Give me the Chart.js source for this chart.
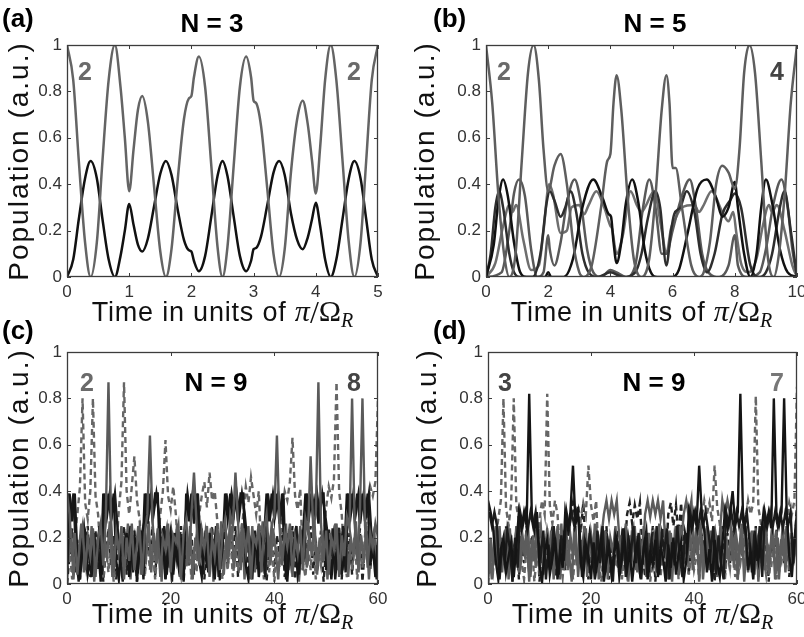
<!DOCTYPE html>
<html>
<head>
<meta charset="utf-8">
<script src="https://cdn.jsdelivr.net/npm/chart.js@4.4.1/dist/chart.umd.min.js"></script>
<style>
  html, body { margin: 0; padding: 0; background: #fff; }
  #wrap { position: relative; width: 804px; height: 637px; overflow: hidden; }
  #wrap canvas { position: absolute; left: 0; top: 0; }
</style>
</head>
<body>
<div id="wrap">
  <canvas id="panel-a" width="804" height="637"></canvas>
  <canvas id="panel-b" width="804" height="637"></canvas>
  <canvas id="panel-c" width="804" height="637"></canvas>
  <canvas id="panel-d" width="804" height="637"></canvas>
</div>
<script>
// ---- data ----

// (a) N = 3
const timeA = [0,0.1,0.19,0.29,0.38,0.48,0.57,0.67,0.77,0.86,0.93,1.0,1.07,1.14,1.21,1.3,1.4,1.5,1.59,1.68,1.78,1.88,1.96,2.0,2.04,2.12,2.22,2.32,2.42,2.5,2.58,2.68,2.78,2.88,2.96,3.0,3.04,3.12,3.22,3.32,3.41,3.5,3.6,3.7,3.79,3.87,3.94,4.0,4.07,4.15,4.24,4.33,4.43,4.53,4.62,4.72,4.81,4.9,5.0];
const grayA = [1,0.85,0.5,0.15,0,0.15,0.5,0.85,1,0.82,0.6,0.37,0.55,0.72,0.78,0.67,0.39,0.11,0,0.12,0.42,0.68,0.77,0.78,0.86,0.95,0.82,0.48,0.13,0,0.13,0.48,0.82,0.95,0.86,0.76,0.75,0.65,0.38,0.1,0,0.12,0.45,0.68,0.76,0.66,0.5,0.36,0.56,0.85,1,0.85,0.5,0.15,0,0.15,0.5,0.85,1];
const blackA = [0,0.075,0.25,0.425,0.5,0.425,0.25,0.075,0,0.09,0.2,0.315,0.225,0.14,0.11,0.165,0.305,0.445,0.5,0.44,0.29,0.16,0.115,0.11,0.07,0.025,0.09,0.26,0.435,0.5,0.435,0.26,0.09,0.025,0.07,0.12,0.125,0.175,0.31,0.45,0.5,0.44,0.275,0.16,0.12,0.17,0.25,0.32,0.22,0.075,0,0.075,0.25,0.425,0.5,0.425,0.25,0.075,0];

// (b) N = 5
const timeB1 = [0,0.2,0.4,0.6,0.75,0.95,1.15,1.35,1.53,1.7,1.85,2.0,2.2,2.4,2.6,2.8,3.0,3.15,3.4,3.7,3.9,4.0,4.1,4.2,4.35,4.55,4.75,5.0,5.25,5.45,5.65,5.8,5.9,6.0,6.1,6.3,6.6,6.85,7.0,7.2,7.4,7.6,7.8,8.0,8.15,8.3,8.47,8.65,8.85,9.05,9.25,9.4,9.6,9.8,10];
const site2B = [1,0.75,0.35,0.08,0,0.1,0.5,0.88,1,0.85,0.55,0.37,0.48,0.53,0.4,0.15,0.02,0,0.05,0.3,0.5,0.53,0.75,0.87,0.72,0.35,0.08,0,0.08,0.35,0.72,0.87,0.75,0.47,0.47,0.3,0.05,0,0.02,0.15,0.4,0.48,0.45,0.38,0.55,0.88,1,0.88,0.5,0.1,0,0.08,0.35,0.75,1];
const timeB2 = [0,0.25,0.4,0.55,0.7,0.9,1.1,1.3,1.9,2.0,2.1,2.5,2.8,3.1,3.45,3.75,3.95,4.02,4.1,4.2,4.35,4.5,4.7,4.9,5.1,5.3,5.5,6.0,6.2,6.5,6.8,7.1,7.4,7.6,7.8,8.0,8.1,8.3,8.5,8.7,8.85,9.0,9.2,9.45,9.7,10];
const blackB1 = [0,0.14,0.33,0.42,0.35,0.15,0.02,0,0,0.02,0,0,0.08,0.3,0.42,0.34,0.27,0.26,0.15,0.06,0.15,0.32,0.42,0.32,0.12,0.02,0,0,0.03,0.2,0.38,0.42,0.34,0.26,0.3,0.41,0.3,0.1,0,0.1,0.3,0.42,0.32,0.12,0.02,0];
const timeB3 = [0,0.15,0.3,0.42,0.55,0.75,0.9,1.1,1.5,1.75,1.95,2.05,2.2,2.4,2.55,2.72,2.9,3.1,3.3,3.6,4.0,4.4,4.8,5.0,5.2,5.45,5.6,5.8,5.95,6.05,6.25,6.45,6.7,6.9,7.1,7.35,7.6,7.85,8.0,8.2,8.5,8.8,9.0,9.2,9.45,9.6,9.8,10];
const blackB2 = [0,0.1,0.3,0.37,0.3,0.1,0.02,0,0,0.1,0.32,0.37,0.33,0.26,0.3,0.37,0.28,0.1,0.02,0,0.02,0,0.02,0.1,0.25,0.37,0.3,0.05,0.2,0.27,0.3,0.37,0.28,0.1,0.02,0.1,0.27,0.33,0.36,0.3,0.05,0,0.02,0.1,0.3,0.37,0.2,0];
const timeB4 = [0,0.5,0.75,0.9,1.06,1.25,1.45,1.65,1.85,2.0,2.05,2.2,2.4,2.6,2.85,3.05,3.25,3.45,3.7,4.0,4.2,4.5,4.8,5.05,5.25,5.45,5.65,5.8,6.0,6.3,6.55,6.75,6.95,7.15,7.5,7.8,8.0,8.1,8.4,8.8,9.0,9.25,9.5,9.7,9.85,10];
const grayB1 = [0,0.02,0.2,0.36,0.42,0.35,0.12,0,0.02,0.18,0.12,0.05,0.15,0.32,0.42,0.32,0.12,0.02,0,0.03,0.02,0,0.05,0.3,0.42,0.3,0.1,0.1,0.2,0.35,0.42,0.3,0.1,0.02,0,0.05,0.18,0.05,0,0.02,0.12,0.32,0.42,0.3,0.12,0];
const timeB5 = [0,0.3,0.55,0.75,0.85,0.97,1.2,1.45,1.7,1.85,2.03,2.15,2.4,2.6,2.75,3.0,3.15,3.3,3.55,3.8,4.0,4.05,4.2,4.4,4.65,4.85,5.0,5.15,5.4,5.65,5.8,5.95,6.05,6.3,6.7,6.85,7.0,7.25,7.6,7.8,7.95,8.05,8.2,8.45,8.7,8.9,9.1,9.2,9.35,9.6,9.85,10];
const grayB2 = [0,0.06,0.22,0.31,0.28,0.31,0.16,0.03,0.05,0.2,0.4,0.36,0.19,0.2,0.3,0.31,0.27,0.31,0.37,0.3,0.22,0.21,0.1,0.18,0.37,0.31,0.28,0.31,0.37,0.2,0.1,0.21,0.24,0.3,0.31,0.28,0.31,0.37,0.28,0.24,0.28,0.19,0.06,0.02,0.08,0.22,0.31,0.28,0.31,0.2,0.05,0];

// (c) and (d) N = 9, sampled every half unit from 0 to 60
const stepCD = 0.5;
const solidGrayC = [
  0.39,0.3,0.1,0.22,0.04,0.18,0.25,0.06,0.2,0.12,
  0.24,0.03,0.19,0.26,0.08,0.3,0.87,0.28,0.05,0.22,
  0.14,0.25,0.02,0.2,0.1,0.26,0.06,0.17,0.24,0.04,
  0.22,0.3,0.64,0.27,0.12,0.24,0.03,0.2,0.15,0.26,
  0.05,0.21,0.18,0.25,0.02,0.22,0.28,0.1,0.3,0.48,
  0.26,0.08,0.23,0.15,0.25,0.03,0.2,0.12,0.26,0.06,
  0.22,0.28,0.09,0.3,0.25,0.48,0.27,0.06,0.24,0.14,
  0.25,0.02,0.21,0.17,0.26,0.05,0.23,0.3,0.12,0.26,
  0.29,0.64,0.25,0.08,0.22,0.16,0.26,0.03,0.2,0.13,
  0.25,0.06,0.28,0.22,0.55,0.24,0.3,0.87,0.26,0.1,
  0.23,0.04,0.2,0.15,0.26,0.03,0.21,0.12,0.29,0.24,
  0.8,0.26,0.1,0.3,0.8,0.25,0.07,0.22,0.16,0.26,0.2
];
const solidBlackC = [
  0,0.39,0.27,0.39,0.12,0.02,0.15,0.21,0.04,0.1,
  0.2,0.06,0.17,0.01,0.39,0.28,0.39,0.27,0.39,0.1,
  0.02,0.18,0.08,0.22,0.03,0.14,0.2,0.01,0.16,0.09,
  0.39,0.26,0.39,0.28,0.39,0.39,0.05,0.19,0.02,0.13,
  0.21,0.04,0.17,0.08,0.2,0.01,0.39,0.27,0.39,0.26,
  0.39,0.1,0.03,0.18,0.07,0.22,0.12,0.02,0.19,0.06,
  0.15,0.39,0.28,0.39,0.26,0.39,0.27,0.39,0.39,0.08,
  0.02,0.17,0.1,0.21,0.03,0.14,0.19,0.39,0.27,0.39,
  0.28,0.39,0.26,0.39,0.1,0.01,0.18,0.07,0.21,0.04,
  0.12,0.2,0.39,0.27,0.39,0.28,0.39,0.26,0.39,0.39,
  0.06,0.19,0.02,0.15,0.09,0.22,0.04,0.13,0.39,0.27,
  0.39,0.28,0.39,0.26,0.39,0.27,0.39,0.08,0.16,0.03,0.2
];
const dashedGrayC = [
  0.05,0.15,0.02,0.2,0.3,0.42,0.8,0.35,0.28,0.4,
  0.8,0.38,0.3,0.12,0.02,0.16,0.05,0.2,0.01,0.14,
  0.32,0.44,0.87,0.4,0.3,0.42,0.55,0.36,0.28,0.1,
  0.03,0.18,0.06,0.2,0.02,0.15,0.3,0.4,0.62,0.38,
  0.32,0.42,0.3,0.12,0.04,0.19,0.07,0.2,0.02,0.16,
  0.05,0.3,0.38,0.44,0.33,0.48,0.36,0.4,0.27,0.12,
  0.02,0.17,0.06,0.21,0.03,0.14,0.08,0.2,0.3,0.42,
  0.35,0.46,0.38,0.3,0.4,0.13,0.02,0.18,0.05,0.2,
  0.01,0.16,0.07,0.3,0.4,0.36,0.44,0.63,0.38,0.32,
  0.41,0.1,0.03,0.19,0.06,0.21,0.02,0.15,0.08,0.2,
  0.33,0.42,0.37,0.45,0.87,0.4,0.3,0.12,0.03,0.18,
  0.06,0.2,0.02,0.15,0.07,0.21,0.32,0.42,0.38,0.44,0.8
];
const dashedBlackC = [
  0,0.12,0.24,0.05,0.19,0.02,0.22,0.1,0.25,0.03,
  0.17,0.23,0.06,0.2,0.01,0.14,0.24,0.08,0.21,0.02,
  0.18,0.11,0.25,0.04,0.2,0.07,0.23,0.01,0.15,0.22,
  0.05,0.19,0.12,0.25,0.03,0.21,0.09,0.24,0.02,0.16,
  0.23,0.06,0.2,0.13,0.25,0.01,0.18,0.08,0.22,0.04,
  0.2,0.14,0.24,0.02,0.17,0.1,0.25,0.05,0.21,0.01,
  0.16,0.23,0.07,0.2,0.12,0.25,0.03,0.19,0.09,0.24,
  0.02,0.18,0.22,0.06,0.25,0.11,0.2,0.01,0.16,0.23,
  0.05,0.21,0.13,0.24,0.03,0.19,0.08,0.25,0.02,0.17,
  0.22,0.06,0.2,0.12,0.25,0.04,0.18,0.1,0.23,0.01,
  0.15,0.24,0.07,0.21,0.13,0.25,0.02,0.19,0.09,0.22,
  0.04,0.2,0.11,0.24,0.01,0.17,0.23,0.06,0.21,0.12,0.18
];
// second set of (c) traces, sampled a quarter unit later
const lowGrayC = [
  0.1,0.24,0.02,0.19,0.13,0.26,0.05,0.21,0.09,0.25,
  0.01,0.18,0.23,0.07,0.2,0.12,0.27,0.03,0.16,0.24,
  0.06,0.21,0.11,0.26,0.02,0.19,0.14,0.25,0.04,0.2,
  0.12,0.27,0.05,0.22,0.09,0.25,0.01,0.18,0.24,0.07,
  0.21,0.13,0.26,0.03,0.17,0.23,0.08,0.25,0.02,0.2,
  0.11,0.26,0.06,0.22,0.14,0.24,0.01,0.19,0.1,0.27,
  0.04,0.21,0.16,0.25,0.07,0.2,0.12,0.26,0.02,0.23,
  0.09,0.25,0.05,0.19,0.13,0.27,0.03,0.22,0.08,0.24,
  0.15,0.02,0.2,0.11,0.26,0.06,0.23,0.13,0.25,0.01,
  0.18,0.24,0.07,0.21,0.12,0.27,0.04,0.2,0.1,0.25,
  0.02,0.22,0.14,0.26,0.06,0.19,0.11,0.24,0.03,0.2,
  0.13,0.27,0.05,0.21,0.09,0.25,0.02,0.18,0.23,0.07,0.15
];
const bandBlackC = [
  0.39,0.3,0.39,0.12,0.01,0.19,0.25,0.08,0.16,0.03,
  0.22,0.1,0.25,0.04,0.39,0.3,0.39,0.31,0.39,0.24,
  0.11,0.01,0.2,0.15,0.25,0.05,0.17,0.09,0.23,0.02,
  0.39,0.3,0.39,0.31,0.39,0.3,0.14,0.25,0.04,0.18,
  0.01,0.22,0.1,0.16,0.03,0.25,0.39,0.3,0.39,0.31,
  0.39,0.18,0.09,0.23,0.05,0.21,0.12,0.25,0.03,0.17,
  0.24,0.39,0.3,0.39,0.31,0.39,0.3,0.39,0.31,0.19,
  0.13,0.02,0.23,0.08,0.21,0.16,0.03,0.39,0.3,0.39,
  0.31,0.39,0.3,0.39,0.02,0.22,0.09,0.17,0.25,0.04,
  0.19,0.11,0.39,0.3,0.39,0.31,0.39,0.3,0.39,0.31,
  0.22,0.08,0.24,0.02,0.16,0.12,0.25,0.05,0.39,0.3,
  0.39,0.31,0.39,0.3,0.39,0.31,0.39,0.21,0.13,0.02,0.17
];

const solidBlackD = [
  0.36,0.31,0.24,0.1,0.02,0.15,0.2,0.05,0.12,0.18,
  0.03,0.16,0.31,0.24,0.31,0.25,0.82,0.31,0.23,0.31,
  0.08,0.01,0.14,0.19,0.04,0.11,0.2,0.02,0.15,0.07,
  0.31,0.24,0.31,0.51,0.26,0.31,0.09,0.03,0.17,0.12,
  0.02,0.18,0.06,0.13,0.2,0.01,0.1,0.16,0.04,0.14,
  0.19,0.03,0.11,0.2,0.06,0.15,0.01,0.12,0.18,0.05,
  0.1,0.2,0.02,0.14,0.08,0.19,0.03,0.16,0.11,0.01,
  0.17,0.07,0.2,0.04,0.13,0.18,0.02,0.1,0.31,0.24,
  0.31,0.25,0.51,0.31,0.23,0.05,0.15,0.01,0.19,0.09,
  0.03,0.17,0.31,0.24,0.31,0.4,0.25,0.31,0.82,0.31,
  0.24,0.06,0.14,0.02,0.18,0.1,0.2,0.31,0.25,0.31,
  0.24,0.8,0.31,0.25,0.31,0.8,0.31,0.12,0.03,0.19,0.31
];
const solidGrayD = [
  0,0.2,0.08,0.25,0.03,0.18,0.12,0.24,0.02,0.21,
  0.09,0.25,0.05,0.2,0.14,0.23,0.01,0.19,0.1,0.25,
  0.04,0.22,0.13,0.24,0.06,0.2,0.11,0.25,0.02,0.18,
  0.24,0.07,0.21,0.12,0.25,0.03,0.19,0.1,0.24,0.05,
  0.22,0.14,0.25,0.02,0.2,0.3,0.36,0.28,0.36,0.3,
  0.36,0.2,0.08,0.24,0.03,0.21,0.12,0.25,0.05,0.19,
  0.1,0.3,0.36,0.29,0.36,0.3,0.36,0.28,0.36,0.14,
  0.02,0.22,0.09,0.25,0.04,0.18,0.3,0.36,0.29,0.36,
  0.12,0.24,0.01,0.2,0.11,0.25,0.06,0.19,0.23,0.03,
  0.21,0.36,0.29,0.36,0.3,0.1,0.24,0.02,0.19,0.13,
  0.25,0.05,0.22,0.09,0.24,0.01,0.18,0.12,0.25,0.04,
  0.2,0.14,0.23,0.02,0.19,0.1,0.25,0.06,0.21,0.12,0.22
];
const dashedGrayD = [
  0.03,0.14,0.06,0.2,0.28,0.36,0.8,0.33,0.25,0.35,
  0.8,0.34,0.27,0.1,0.02,0.16,0.05,0.19,0.01,0.13,
  0.28,0.36,0.3,0.82,0.34,0.26,0.36,0.3,0.12,0.03,
  0.17,0.06,0.2,0.02,0.14,0.08,0.28,0.35,0.3,0.51,
  0.34,0.27,0.36,0.1,0.01,0.15,0.05,0.19,0.03,0.12,
  0.07,0.18,0.02,0.14,0.2,0.06,0.25,0.13,0.21,0.04,
  0.16,0.09,0.2,0.01,0.13,0.07,0.19,0.03,0.15,0.22,
  0.05,0.17,0.1,0.21,0.02,0.14,0.08,0.2,0.04,0.16,
  0.06,0.12,0.2,0.28,0.36,0.3,0.35,0.27,0.51,0.33,
  0.26,0.11,0.02,0.16,0.07,0.2,0.03,0.14,0.09,0.18,
  0.28,0.36,0.3,0.35,0.81,0.33,0.26,0.12,0.04,0.17,
  0.07,0.2,0.02,0.15,0.1,0.19,0.26,0.35,0.3,0.36,0.85
];
const dashedBlackD = [
  0,0.17,0.08,0.24,0.03,0.2,0.11,0.25,0.05,0.19,
  0.13,0.23,0.02,0.18,0.09,0.25,0.04,0.21,0.12,0.24,
  0.01,0.16,0.07,0.22,0.14,0.25,0.03,0.19,0.1,0.23,
  0.06,0.2,0.28,0.35,0.27,0.34,0.22,0.35,0.15,0.02,
  0.19,0.11,0.24,0.05,0.21,0.13,0.25,0.02,0.17,0.09,
  0.23,0.04,0.2,0.12,0.3,0.35,0.26,0.34,0.28,0.35,
  0.14,0.03,0.22,0.08,0.25,0.01,0.18,0.11,0.24,0.06,
  0.3,0.35,0.25,0.34,0.2,0.35,0.12,0.22,0.04,0.19,
  0.1,0.25,0.02,0.21,0.14,0.24,0.07,0.2,0.01,0.18,
  0.12,0.25,0.04,0.22,0.09,0.23,0.15,0.02,0.2,0.11,
  0.24,0.06,0.19,0.13,0.25,0.03,0.21,0.08,0.23,0.01,
  0.17,0.12,0.24,0.05,0.2,0.09,0.25,0.03,0.22,0.14,0.35
];
// second set of (d) traces, sampled a quarter unit later
const lowGrayD = [
  0.14,0.02,0.22,0.09,0.25,0.05,0.19,0.12,0.24,0.01,
  0.17,0.23,0.06,0.2,0.11,0.26,0.03,0.21,0.08,0.18,
  0.25,0.04,0.16,0.12,0.23,0.02,0.2,0.1,0.26,0.06,
  0.21,0.13,0.01,0.24,0.08,0.19,0.15,0.25,0.03,0.22,
  0.09,0.26,0.05,0.18,0.12,0.23,0.02,0.2,0.14,0.25,
  0.07,0.21,0.11,0.26,0.01,0.19,0.24,0.06,0.17,0.1,
  0.25,0.03,0.22,0.13,0.2,0.05,0.26,0.08,0.18,0.12,
  0.23,0.01,0.21,0.15,0.25,0.04,0.19,0.09,0.24,0.06,
  0.2,0.13,0.26,0.02,0.17,0.11,0.23,0.05,0.21,0.14,
  0.25,0.03,0.18,0.1,0.24,0.07,0.2,0.12,0.26,0.01,
  0.19,0.15,0.23,0.04,0.21,0.09,0.25,0.06,0.17,0.13,
  0.24,0.02,0.2,0.11,0.26,0.05,0.22,0.08,0.18,0.14,0.1
];
const bandBlackD = [
  0.31,0.25,0.31,0.25,0.02,0.18,0.09,0.23,0.15,0.01,
  0.2,0.07,0.31,0.25,0.31,0.24,0.31,0.25,0.31,0.19,
  0.12,0.23,0.02,0.17,0.08,0.25,0.14,0.04,0.21,0.1,
  0.31,0.24,0.31,0.25,0.31,0.25,0.03,0.18,0.11,0.22,
  0.15,0.02,0.23,0.09,0.25,0.05,0.19,0.12,0.01,0.21,
  0.17,0.07,0.24,0.03,0.2,0.13,0.25,0.09,0.22,0.02,
  0.16,0.23,0.05,0.19,0.1,0.25,0.04,0.21,0.14,0.24,
  0.02,0.18,0.08,0.25,0.12,0.03,0.22,0.16,0.31,0.25,
  0.31,0.24,0.31,0.25,0.31,0.23,0.14,0.25,0.04,0.21,
  0.09,0.02,0.31,0.25,0.31,0.24,0.31,0.25,0.31,0.24,
  0.31,0.19,0.05,0.23,0.1,0.25,0.03,0.31,0.25,0.31,
  0.24,0.31,0.25,0.31,0.24,0.31,0.25,0.31,0.09,0.23,0.16
];

const yTicks = [0, 0.2, 0.4, 0.6, 0.8, 1];

// ---- helpers ----
const SANS = '"Liberation Sans", Arial, Helvetica, sans-serif';
const SERIF = '"Liberation Serif", "DejaVu Serif", serif';
Chart.defaults.font.family = SANS;

const pairs = (xs, ys) => ys.map((v, i) => ({ x: xs[i], y: v }));
const sampled = (ys, shift = 0) => ys.map((v, i) => ({ x: i * stepCD + shift, y: v }));

const line = (data, color, extra = {}) => Object.assign({
  data,
  borderColor: color,
  borderWidth: 2.5,
  pointRadius: 0,
  fill: false,
  tension: 0,
}, extra);

// frame + inward ticks on all four sides, MATLAB style
const frameTicks = {
  id: 'frameTicks',
  afterDraw(chart) {
    const { ctx, chartArea: a, scales: { x, y } } = chart;
    const len = 4;
    ctx.save();
    ctx.strokeStyle = '#3c3c3c';
    ctx.lineWidth = 1;
    ctx.beginPath();
    x.ticks.forEach(t => {
      const px = Math.round(x.getPixelForValue(t.value)) + 0.5;
      ctx.moveTo(px, a.bottom); ctx.lineTo(px, a.bottom - len);
      ctx.moveTo(px, a.top); ctx.lineTo(px, a.top + len);
    });
    y.ticks.forEach(t => {
      const py = Math.round(y.getPixelForValue(t.value)) + 0.5;
      ctx.moveTo(a.left, py); ctx.lineTo(a.left + len, py);
      ctx.moveTo(a.right, py); ctx.lineTo(a.right - len, py);
    });
    ctx.stroke();
    ctx.lineWidth = 1.3;
    ctx.strokeRect(Math.round(a.left) + 0.5, Math.round(a.top) + 0.5,
      Math.round(a.right - a.left) - 1, Math.round(a.bottom - a.top) - 1);
    ctx.restore();
  }
};

// letters, titles, state numbers and axis titles
const panelText = {
  id: 'panelText',
  afterDraw(chart, args, o) {
    const { ctx, chartArea: a } = chart;
    ctx.save();
    ctx.textBaseline = 'alphabetic';

    ctx.fillStyle = '#000';
    ctx.font = 'bold 26px ' + SANS;
    ctx.textAlign = 'left';
    ctx.fillText(o.letter, o.letterX, o.letterY);

    ctx.textAlign = 'center';
    ctx.font = 'bold 26px ' + SANS;
    ctx.fillText(o.title, o.titleX, o.titleY);

    ctx.textAlign = 'left';
    ctx.font = 'bold 25px ' + SANS;
    o.tags.forEach(t => {
      ctx.fillStyle = t.color;
      ctx.fillText(t.text, t.x, t.y);
    });

    // y axis title
    ctx.fillStyle = '#111';
    ctx.save();
    ctx.translate(o.yLabelX, (a.top + a.bottom) / 2);
    ctx.rotate(-Math.PI / 2);
    ctx.textAlign = 'center';
    ctx.font = '28px ' + SANS;
    ctx.letterSpacing = '2px';
    ctx.fillText('Population (a.u.)', 0, 0);
    ctx.restore();

    // x axis title with math part
    const parts = [
      { t: 'Time in units of ', f: '27px ' + SANS, dy: 0, sp: '0.8px' },
      { t: 'π', f: 'italic 30px ' + SERIF, dy: 0, sp: '0px' },
      { t: '/', f: '32px ' + SERIF, dy: 2, sp: '0px' },
      { t: 'Ω', f: '30px ' + SERIF, dy: 0, sp: '0px' },
      { t: 'R', f: 'italic 20px ' + SERIF, dy: 6, sp: '0px' },
    ];
    let total = 0;
    parts.forEach(p => {
      ctx.font = p.f; ctx.letterSpacing = p.sp;
      p.w = ctx.measureText(p.t).width; total += p.w;
    });
    let cx = (a.left + a.right) / 2 - total / 2;
    ctx.textAlign = 'left';
    parts.forEach(p => {
      ctx.font = p.f; ctx.letterSpacing = p.sp;
      ctx.fillText(p.t, cx, o.xTitleY + p.dy);
      cx += p.w;
    });
    ctx.restore();
  }
};

const makePanel = (id, box, xMax, xStep, datasets, text) => {
  const W = 804, H = 637, axisW = 50, axisH = 28;
  return new Chart(document.getElementById(id), {
    type: 'line',
    data: { datasets },
    options: {
      responsive: false,
      animation: false,
      events: [],
      layout: {
        padding: { left: box.left - axisW, top: box.top, right: W - box.right, bottom: H - box.bottom - axisH },
      },
      scales: {
        x: {
          type: 'linear',
          min: 0,
          max: xMax,
          afterFit: (s) => { s.height = axisH; s.paddingLeft = 0; s.paddingRight = 0; },
          afterBuildTicks: (s) => {
            const t = [];
            for (let v = 0; v <= xMax; v += xStep) t.push({ value: v });
            s.ticks = t;
          },
          grid: { display: false, drawTicks: false },
          border: { display: false },
          ticks: { color: '#333', font: { size: 17 }, padding: 5, maxRotation: 0, autoSkip: false },
        },
        y: {
          min: 0,
          max: 1,
          afterFit: (s) => { s.width = axisW; s.paddingTop = 0; s.paddingBottom = 0; },
          afterBuildTicks: (s) => { s.ticks = yTicks.map(v => ({ value: v })); },
          grid: { display: false, drawTicks: false },
          border: { display: false },
          ticks: {
            color: '#333', font: { size: 17 }, padding: 5,
            callback: (v) => String(Math.round(v * 10) / 10),
          },
        },
      },
      plugins: {
        legend: { display: false },
        tooltip: { enabled: false },
        panelText: text,
      },
    },
    plugins: [frameTicks, panelText],
  });
};

const smooth = { cubicInterpolationMode: 'monotone' };
const dash = { borderDash: [6, 4] };
const dense = { borderWidth: 2.4 };

makePanel('panel-a', { left: 67, top: 45, right: 378, bottom: 277 }, 5, 1, [
  line(pairs(timeA, grayA), '#646464', smooth),
  line(pairs(timeA, blackA), '#111111', smooth),
], {
  letter: '(a)', letterX: 2, letterY: 27,
  title: 'N = 3', titleX: 212, titleY: 32,
  tags: [{ text: '2', x: 78, y: 80, color: '#6a6a6a' }, { text: '2', x: 347, y: 80, color: '#6a6a6a' }],
  yLabelX: 28, xTitleY: 321,
});

makePanel('panel-b', { left: 486, top: 45, right: 797, bottom: 277 }, 10, 2, [
  line(pairs(timeB1, site2B), '#5e5e5e', smooth),
  line(pairs(timeB2, blackB1), '#111111', smooth),
  line(pairs(timeB3, blackB2), '#2e2e2e', smooth),
  line(pairs(timeB4, grayB1), '#595959', smooth),
  line(pairs(timeB5, grayB2), '#6e6e6e', smooth),
], {
  letter: '(b)', letterX: 433, letterY: 27,
  title: 'N = 5', titleX: 655, titleY: 32,
  tags: [{ text: '2', x: 497, y: 80, color: '#6a6a6a' }, { text: '4', x: 770, y: 80, color: '#444' }],
  yLabelX: 434, xTitleY: 321,
});

makePanel('panel-c', { left: 67, top: 352, right: 378, bottom: 584 }, 60, 20, [
  line(sampled(solidGrayC), '#5a5a5a', dense),
  line(sampled(solidBlackC), '#161616', dense),
  line(sampled(bandBlackC, 0.25), '#1c1c1c', dense),
  line(sampled(lowGrayC, 0.25), '#5e5e5e', dense),
  line(sampled(dashedGrayC), '#666666', Object.assign({}, dense, dash)),
  line(sampled(dashedBlackC), '#222222', Object.assign({}, dense, dash)),
], {
  letter: '(c)', letterX: 2, letterY: 339,
  title: 'N = 9', titleX: 216, titleY: 391,
  tags: [{ text: '2', x: 80, y: 391, color: '#6a6a6a' }, { text: '8', x: 347, y: 391, color: '#444' }],
  yLabelX: 28, xTitleY: 623,
});

makePanel('panel-d', { left: 488, top: 352, right: 797, bottom: 584 }, 60, 20, [
  line(sampled(solidBlackD), '#151515', dense),
  line(sampled(bandBlackD, 0.25), '#1c1c1c', dense),
  line(sampled(solidGrayD), '#5c5c5c', dense),
  line(sampled(lowGrayD, 0.25), '#5e5e5e', dense),
  line(sampled(dashedGrayD), '#666666', Object.assign({}, dense, dash)),
  line(sampled(dashedBlackD), '#222222', Object.assign({}, dense, dash)),
], {
  letter: '(d)', letterX: 433, letterY: 339,
  title: 'N = 9', titleX: 654, titleY: 391,
  tags: [{ text: '3', x: 498, y: 391, color: '#444' }, { text: '7', x: 770, y: 391, color: '#777' }],
  yLabelX: 436, xTitleY: 623,
});
</script>
</body>
</html>
